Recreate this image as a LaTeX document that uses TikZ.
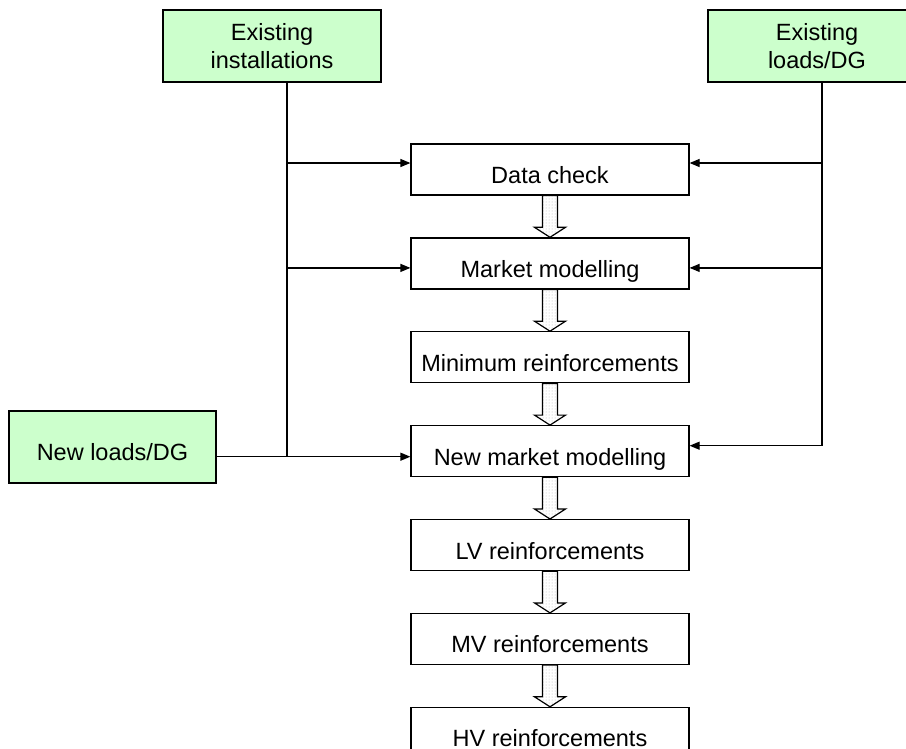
\documentclass[tikz,border=0pt]{standalone}
\usepackage{fontspec}
\setmainfont{Liberation Sans}
\usepackage{tikz}
\usetikzlibrary{positioning, arrows.meta, patterns}

\definecolor{inputgreen}{RGB}{204,255,204}

% hollow block arrow between two stages
\newcommand{\stagearrow}[2]{%
  \filldraw[stagearrowstyle] ([xshift=-7.5pt]#1.south) -- ([xshift=-7.5pt, yshift=10pt]#2.north)
    -- ([xshift=-15.5pt, yshift=10pt]#2.north) -- (#2.north) -- ([xshift=15.5pt, yshift=10pt]#2.north)
    -- ([xshift=7.5pt, yshift=10pt]#2.north) -- ([xshift=7.5pt]#1.south) -- cycle;}

\begin{document}
\begin{tikzpicture}[
    x=1pt, y=-1pt,
    node distance=41.7pt, % gap between the stages
    every node/.style={font=\fontsize{23.5}{28}\selectfont},
    stage/.style={draw, rectangle, line width=1.2pt, minimum width=278pt, minimum height=51pt, inner sep=0pt, text height=27.8pt, text depth=0pt},
    source/.style={draw, rectangle, fill=inputgreen, line width=1.2pt, minimum width=218pt, minimum height=72pt, inner sep=0pt, align=center},
    wire/.style={line width=1.2pt},
    arrowstyle/.style={-{Triangle[length=10pt, width=8pt]}, line width=1.2pt},
    stagearrowstyle/.style={line width=1.2pt, pattern=dots, pattern color=black!30}
]
\clip (0,0) rectangle (906,748);

% Stages (middle column)
\node[stage] (dc) at (550,169.5) {Data check};
\node[stage] (mm) [below=of dc] {Market modelling};
\node[stage] (mi) [below=of mm] {Minimum reinforcements};
\node[stage] (nm) [below=of mi] {New market modelling};
\node[stage] (lv) [below=of nm] {LV reinforcements};
\node[stage] (mv) [below=of lv] {MV reinforcements};
\node[stage] (hv) [below=of mv] {HV reinforcements};

% Inputs
\node[source] (ei) at (272,46) {Existing\\installations};
\node[source] (el) at (817,46) {Existing\\loads/DG};
\node[source, minimum width=207pt, text height=27.8pt, text depth=0pt] (nl) at (112.5,447) {New loads/DG};

% Entry points on the stages
\coordinate (dc in) at ([yshift=6.5pt]dc.west);
\coordinate (mm in) at ([yshift=-4.5pt]mm.west);
\coordinate (nm in) at ([yshift=-5.5pt]nm.west);
\coordinate (dc out) at ([yshift=6.5pt]dc.east);
\coordinate (mm out) at ([yshift=-4.5pt]mm.east);
\coordinate (nm out) at ([yshift=5.5pt]nm.east);

% Left bus
\coordinate (lbus) at ([xshift=15pt]ei.south);
\draw[wire] (lbus) -- (lbus |- nm in);
\draw[arrowstyle] (lbus |- dc in) -- (dc in);
\draw[arrowstyle] (lbus |- mm in) -- (mm in);
\draw[arrowstyle] (nl.east |- nm in) -- (nm in);

% Right bus
\coordinate (rbus) at ([xshift=5pt]el.south);
\draw[wire] (rbus) -- (rbus |- nm out);
\draw[arrowstyle] (rbus |- dc out) -- (dc out);
\draw[arrowstyle] (rbus |- mm out) -- (mm out);
\draw[arrowstyle] (rbus |- nm out) -- (nm out);

% Flow between stages
\foreach \a/\b in {dc/mm, mm/mi, mi/nm, nm/lv, lv/mv, mv/hv}
  \stagearrow{\a}{\b};

\end{tikzpicture}
\end{document}
